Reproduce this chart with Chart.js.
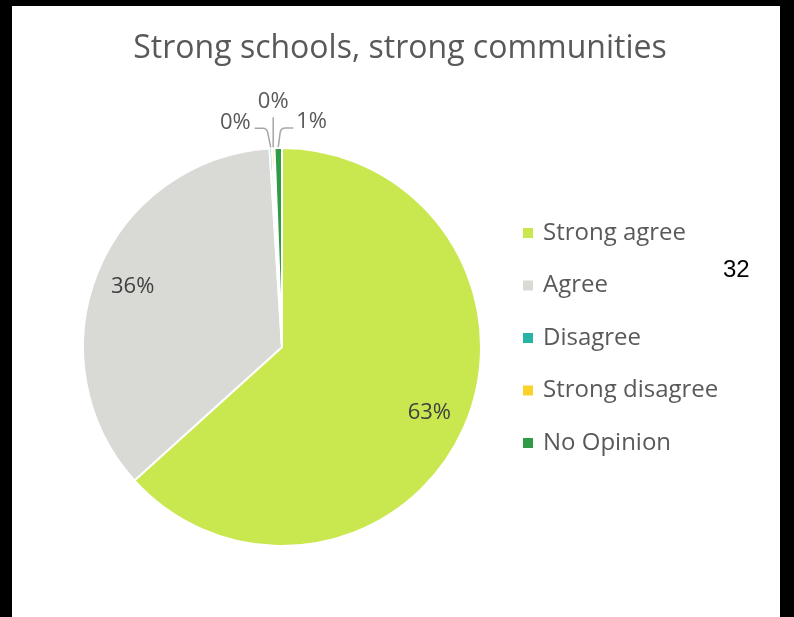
<!DOCTYPE html>
<html>
<head>
<meta charset="utf-8">
<script src="https://cdn.jsdelivr.net/npm/chart.js@4/dist/chart.umd.min.js"></script>
<style>
  html, body { margin: 0; padding: 0; background: #000; }
  body { width: 794px; height: 617px; position: relative; overflow: hidden; }
  #sheet { position: absolute; left: 12px; top: 6px; width: 768px; height: 611px; background: #fff; }
  #sheet canvas { position: absolute; left: 0; top: 0; }
  #pageNo { position: absolute; left: 723px; top: 255px; font: 24px "Liberation Sans", Arial, sans-serif; color: #000; }
</style>
</head>
<body>
<div id="sheet"><canvas id="pie" width="768" height="611"></canvas></div>
<div id="pageNo">32</div>
<script>
const TITLE = "Strong schools, strong communities";
const CATEGORIES = ["Strong agree", "Agree", "Disagree", "Strong disagree", "No Opinion"];
const VALUES = [63.3, 35.7, 0.2, 0.2, 0.6];
const COLORS = ["#c9e850", "#d9d9d6", "#25b5a2", "#fcd22a", "#2f9b47"];

const FONT = "'Open Sans', Lato, sans-serif";
const TEXT_GRAY = "#595959";

// title centred on the whole sheet, not on the pie
const sheetTitle = {
  id: "sheetTitle",
  afterDraw(chart) {
    const ctx = chart.ctx;
    ctx.save();
    ctx.font = "32px " + FONT;
    ctx.fillStyle = TEXT_GRAY;
    ctx.textAlign = "center";
    ctx.textBaseline = "alphabetic";
    ctx.fillText(TITLE, chart.width / 2 + 4, 52);
    ctx.restore();
  }
};

// percentage labels: inside for big slices, outside with leader lines for tiny ones
const sliceLabels = {
  id: "sliceLabels",
  afterDatasetsDraw(chart) {
    const ctx = chart.ctx;
    const arcs = chart.getDatasetMeta(0).data;
    const vals = chart.data.datasets[0].data;
    const total = vals.reduce((a, b) => a + b, 0);
    let small = 0;
    ctx.save();
    ctx.font = "22px " + FONT;
    arcs.forEach((arc, i) => {
      const p = arc.getProps(["x", "y", "startAngle", "endAngle", "outerRadius"], true);
      const pct = Math.round(vals[i] / total * 100) + "%";
      const mid = (p.startAngle + p.endAngle) / 2;
      if (vals[i] / total > 0.03) {
        const r = p.outerRadius * 0.81;
        ctx.fillStyle = "#404040";
        ctx.textAlign = "center";
        ctx.textBaseline = "middle";
        ctx.fillText(pct, p.x + Math.cos(mid) * r, p.y + Math.sin(mid) * r);
        return;
      }
      const ax = p.x + Math.cos(mid) * (p.outerRadius + 1);
      const ay = p.y + Math.sin(mid) * (p.outerRadius + 1);
      const elbowY = ay - 19;
      ctx.strokeStyle = "#a6a6a6";
      ctx.lineWidth = 1.5;
      ctx.fillStyle = TEXT_GRAY;
      ctx.textBaseline = "middle";
      ctx.beginPath();
      ctx.moveTo(ax, ay);
      if (small === 0) {
        ctx.lineTo(ax - 3, elbowY + 4);
        ctx.quadraticCurveTo(ax - 4, elbowY, ax - 8, elbowY);
        ctx.lineTo(ax - 16, elbowY);
        ctx.stroke();
        ctx.textAlign = "right";
        ctx.fillText(pct, ax - 20, elbowY - 6);
      } else if (small === 1) {
        ctx.lineTo(ax, ay - 30);
        ctx.stroke();
        ctx.textAlign = "center";
        ctx.fillText(pct, ax, ay - 45);
      } else {
        ctx.lineTo(ax + 2, elbowY + 4);
        ctx.quadraticCurveTo(ax + 3, elbowY, ax + 7, elbowY);
        ctx.lineTo(ax + 15, elbowY);
        ctx.stroke();
        ctx.textAlign = "left";
        ctx.fillText(pct, ax + 18, elbowY - 6);
      }
      small++;
    });
    ctx.restore();
  }
};

// legend on the right, drawn from the chart's own labels/colours
const sideLegend = {
  id: "sideLegend",
  afterDraw(chart) {
    const ctx = chart.ctx;
    const labels = chart.data.labels;
    const colors = chart.data.datasets[0].backgroundColor;
    const x = 511, y0 = 227, step = 52.5, box = 10;
    ctx.save();
    ctx.font = "24px " + FONT;
    ctx.textBaseline = "middle";
    ctx.textAlign = "left";
    labels.forEach((lab, i) => {
      const y = y0 + i * step;
      ctx.fillStyle = colors[i];
      ctx.fillRect(x, y - box / 2, box, box);
      ctx.fillStyle = TEXT_GRAY;
      ctx.fillText(lab, x + 20, y);
    });
    ctx.restore();
  }
};

new Chart(document.getElementById("pie"), {
  type: "pie",
  data: {
    labels: CATEGORIES,
    datasets: [{
      data: VALUES,
      backgroundColor: COLORS,
      borderColor: "#ffffff",
      borderWidth: 2,
      hoverOffset: 0
    }]
  },
  options: {
    responsive: false,
    animation: false,
    layout: { padding: { top: 141, left: 70, right: 298, bottom: 70 } },
    plugins: {
      legend: { display: false },
      tooltip: { enabled: false },
      title: { display: false }
    }
  },
  plugins: [sliceLabels, sideLegend, sheetTitle]
});
</script>
</body>
</html>
